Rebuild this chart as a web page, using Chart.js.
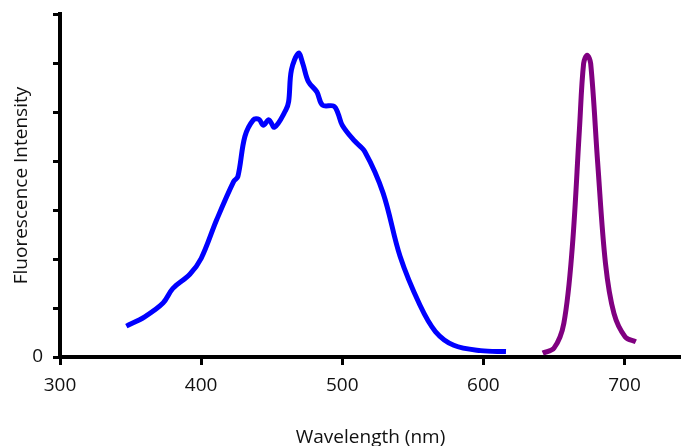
<!DOCTYPE html>
<html>
  <head>
    <meta charset="UTF-8">
    <title>Fluorescence spectra</title>
    <script src="https://cdn.jsdelivr.net/npm/chart.js"></script>
    <style>
      body { margin: 0; background: #fff; }
    </style>
  </head>
  <body>
    <canvas id="chart" width="681" height="446"></canvas>
    <script>
      // blue spectrum (wavelength nm, intensity)
      var blueWl = [347, 360, 373, 380, 392, 400, 411, 423, 426, 431, 437, 441, 444, 448, 452, 460, 462, 464, 469, 472, 476, 482, 486, 494, 497, 500, 508, 516, 529, 541, 555, 566, 579, 598, 616];
      var blueVal = [0.63, 0.82, 1.10, 1.40, 1.69, 2.01, 2.80, 3.58, 3.68, 4.50, 4.84, 4.85, 4.73, 4.84, 4.69, 5.04, 5.21, 5.86, 6.20, 5.99, 5.62, 5.41, 5.14, 5.12, 4.97, 4.73, 4.43, 4.19, 3.34, 2.05, 1.06, 0.52, 0.24, 0.13, 0.11];

      // purple spectrum
      var purpleWl = [642, 650, 657, 663, 668, 671, 673.5, 676, 681, 686.5, 692.5, 700.5, 708];
      var purpleVal = [0.08, 0.18, 0.69, 2.25, 4.63, 5.99, 6.16, 5.99, 3.95, 1.91, 0.89, 0.41, 0.31];

      var xTicks = [300, 400, 500, 600, 700];
      var yTicks = [0, 1, 2, 3, 4, 5, 6, 7];

      function toPoints(xs, ys) {
        var pts = [];
        for (var i = 0; i < xs.length; i++) {
          pts.push({ x: xs[i], y: ys[i] });
        }
        return pts;
      }

      var fontFamily = '"Open Sans", "Noto Sans", sans-serif';

      var ctx = document.getElementById('chart').getContext('2d');
      var chart = new Chart(ctx, {
        type: 'line',
        data: {
          datasets: [
            {
              data: toPoints(blueWl, blueVal),
              borderColor: '#0000ff',
              borderWidth: 5,
              pointRadius: 0,
              tension: 0.35,
              fill: false
            },
            {
              data: toPoints(purpleWl, purpleVal),
              borderColor: '#800080',
              borderWidth: 5,
              pointRadius: 0,
              tension: 0.35,
              fill: false
            }
          ]
        },
        options: {
          responsive: false,
          animation: false,
          layout: { padding: { top: 14, right: 0, left: 0, bottom: 0 } },
          plugins: {
            legend: { display: false },
            tooltip: { enabled: false }
          },
          scales: {
            x: {
              type: 'linear',
              min: 300,
              max: 740,
              afterBuildTicks: function(scale) {
                scale.ticks = xTicks.map(function(v) { return { value: v }; });
              },
              afterFit: function(scale) {
                scale.height = 89;
                scale.paddingLeft = 0;
                scale.paddingRight = 0;
              },
              ticks: {
                color: '#111',
                padding: 9,
                maxRotation: 0,
                font: { family: fontFamily, size: 19 }
              },
              grid: {
                drawOnChartArea: false,
                drawTicks: true,
                tickLength: 8,
                tickWidth: 3,
                tickColor: '#000'
              },
              border: { display: true, color: '#000', width: 4 },
              title: {
                display: true,
                text: 'Wavelength (nm)',
                color: '#111',
                font: { family: fontFamily, size: 19 },
                padding: { top: 0, bottom: -3 }
              }
            },
            y: {
              min: 0,
              max: 7,
              afterBuildTicks: function(scale) {
                scale.ticks = yTicks.map(function(v) { return { value: v }; });
              },
              afterFit: function(scale) {
                scale.width = 60;
                scale.paddingTop = 0;
                scale.paddingBottom = 0;
              },
              ticks: {
                color: '#111',
                padding: 10,
                font: { family: fontFamily, size: 19 },
                callback: function(v) { return v === 0 ? '0' : ''; }
              },
              grid: {
                drawOnChartArea: false,
                drawTicks: true,
                tickLength: 7,
                tickWidth: 3,
                tickColor: '#000'
              },
              border: { display: true, color: '#000', width: 4 },
              title: {
                display: true,
                text: 'Fluorescence Intensity',
                color: '#111',
                font: { family: fontFamily, size: 19 },
                padding: { top: 10, bottom: 0 }
              }
            }
          }
        }
      });
    </script>
  </body>
</html>
